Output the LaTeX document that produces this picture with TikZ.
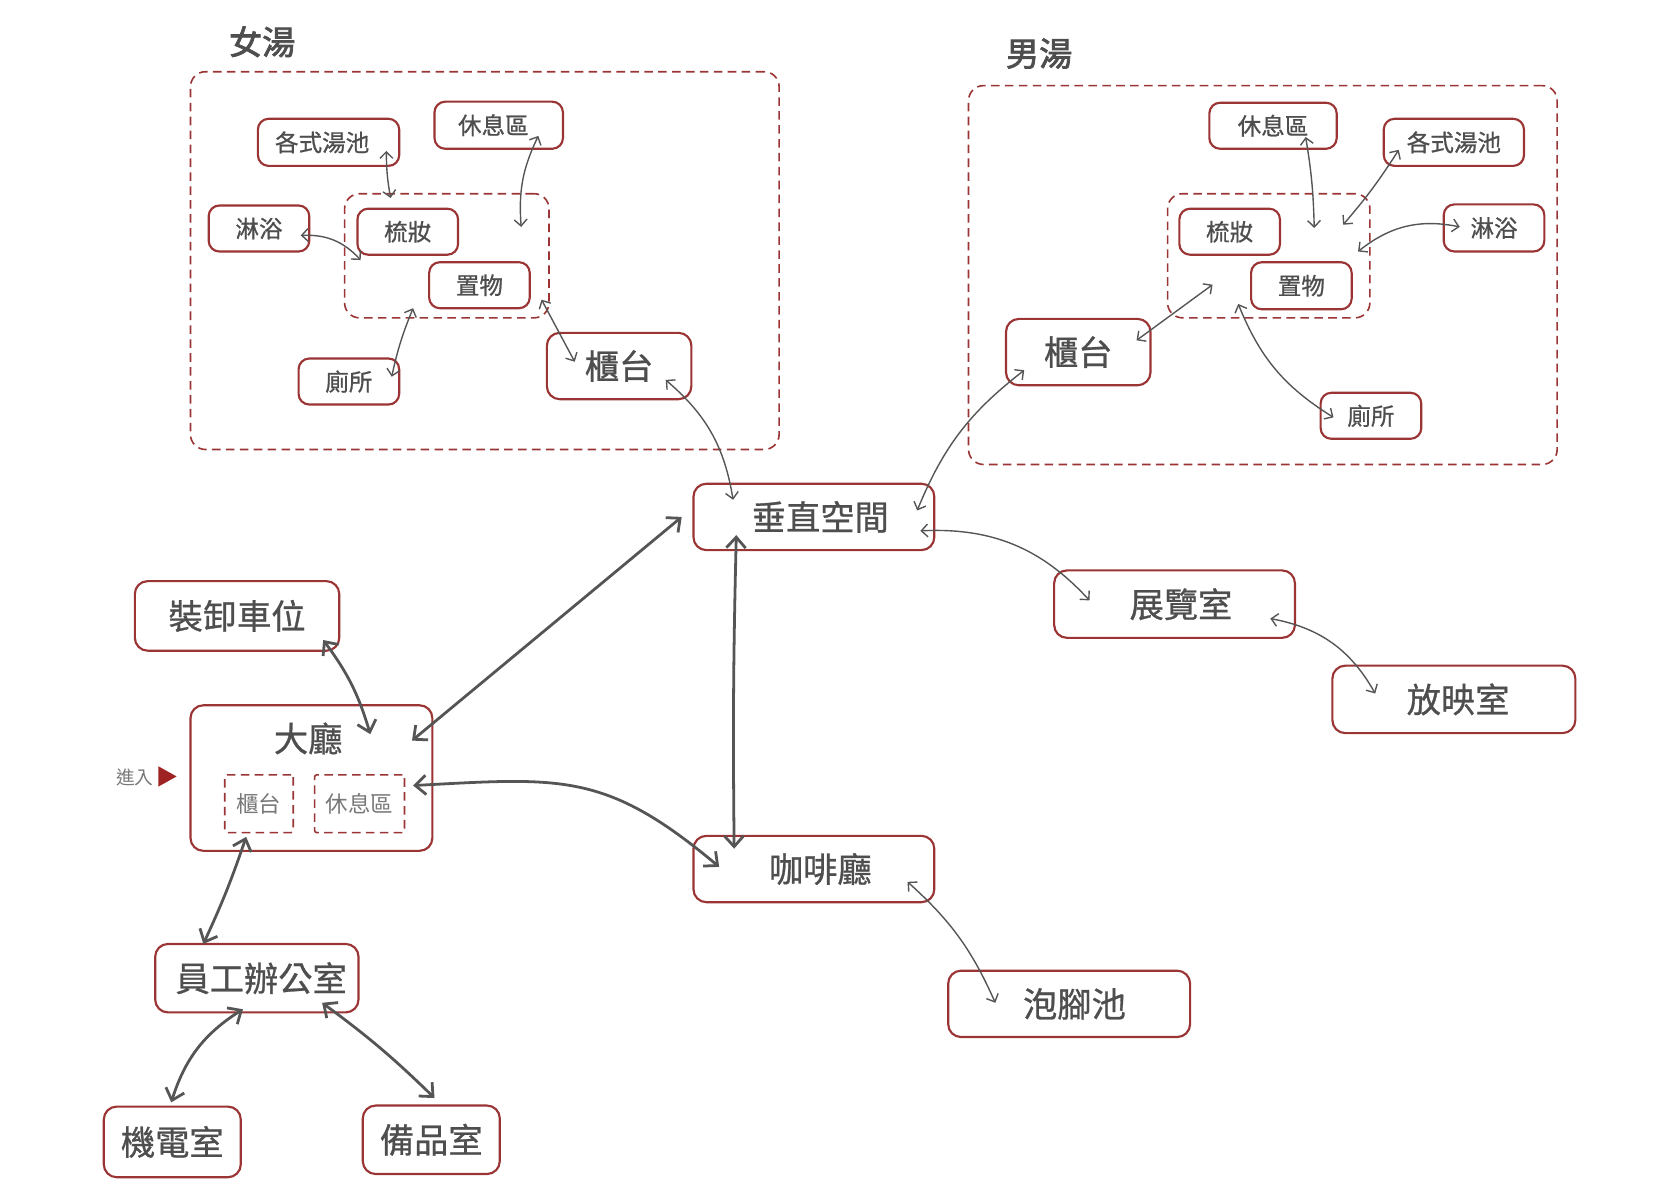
\documentclass[tikz,border=0pt]{standalone}
\usepackage{fontspec}
\newfontfamily\cjk{Noto Sans CJK TC}
\newfontfamily\cjkm[FakeBold=0.8]{Noto Sans CJK TC}
\newfontfamily\cjkb[FakeBold=2.2]{Noto Sans CJK TC}
\usetikzlibrary{calc,arrows.meta}
\definecolor{boxred}{RGB}{155,52,52}
\definecolor{txt}{RGB}{78,78,78}
\definecolor{txtl}{RGB}{120,120,120}
\definecolor{arr}{RGB}{85,85,85}
\definecolor{tri}{RGB}{160,35,35}
\tikzset{
  box/.style={draw=boxred, line width=1pt, rounded corners=6pt, fill=white, text=txt, inner sep=0pt,
    anchor=center, font=\cjkm\fontsize{16}{18}\selectfont},
  sbox/.style={box, rounded corners=5pt, font=\cjkm\fontsize{11}{13}\selectfont},
  zone/.style={draw=boxred, line width=0.75pt, dash pattern=on 4pt off 2.5pt, rounded corners=7pt, inner sep=0pt, anchor=center},
  szone/.style={zone, rounded corners=1pt, text=txtl, font=\cjk\fontsize{10.5}{12}\selectfont},
  ttl/.style={text=txt, font=\cjkb\fontsize{15.5}{17}\selectfont, inner sep=0pt},
  sz/.style 2 args={minimum width=#1pt, minimum height=#2pt},
  lnk/.style={draw=arr, line width=0.65pt, {Straight Barb[length=3pt,width=6pt]}-{Straight Barb[length=3pt,width=6pt]}},
  lnkb/.style={draw=arr, line width=1.3pt, {Straight Barb[length=5pt,width=9pt]}-{Straight Barb[length=5pt,width=9pt]}}
}
\begin{document}
\begin{tikzpicture}[x=0.5pt,y=-0.5pt]
\useasboundingbox (0,0) rectangle (1567,1120);
% ---------------- 女湯 ----------------
\node[ttl] (tW) at (245,39) {女湯};
\node[zone, sz={275}{176.5}] (wOut) at (453,243.5) {};
\node[zone, sz={95.5}{58}] (wIn) at (417.5,239) {};
\node[sbox, sz={66}{22}] (wGe) at (307,133) {\hspace*{-6pt}各式湯池};
\node[sbox, sz={60}{22}] (wXi) at (466,117) {\hspace*{-5pt}休息區};
\node[sbox, sz={47}{21.5}] (wLin) at (242,213.5) {淋浴};
\node[sbox, sz={47}{21.5}] (wShu) at (381,216.5) {梳妝};
\node[sbox, sz={47}{21.5}] (wZhi) at (448,266.5) {置物};
\node[sbox, sz={47}{21.5}] (wCe) at (326,356.5) {廁所};
\node[box, sz={67.5}{31}] (wGui) at (578.5,342) {櫃台};
% ---------------- 男湯 ----------------
\node[ttl] (tM) at (971,50) {男湯};
\node[zone, sz={275}{177}] (mOut) at (1180,257) {};
\node[zone, sz={94.5}{58}] (mIn) at (1185.5,239) {};
\node[sbox, sz={59.5}{21.5}] (mXi) at (1189.5,117.5) {休息區};
\node[sbox, sz={65.5}{22}] (mGe) at (1358.5,133) {各式湯池};
\node[sbox, sz={47}{21.5}] (mShu) at (1149,216.5) {梳妝};
\node[sbox, sz={47}{22}] (mLin) at (1396,213) {淋浴};
\node[sbox, sz={47}{22}] (mZhi) at (1216,267) {置物};
\node[box, sz={67.5}{31}] (mGui) at (1007.5,329) {櫃台};
\node[sbox, sz={47}{21.5}] (mCe) at (1281,388.5) {廁所};
% ---------------- main ----------------
\node[box, sz={112.5}{31}] (vs) at (760.5,483) {\hspace*{6pt}垂直空間};
\node[box, sz={112.5}{31.5}] (ex) at (1097.5,564.5) {\hspace*{6pt}展覽室};
\node[box, sz={113.5}{31.5}] (sc) at (1358.5,653.5) {\hspace*{4pt}放映室};
\node[box, sz={112.5}{31}] (cafe) at (760.5,812) {\hspace*{6pt}咖啡廳};
\node[box, sz={113}{31}] (foot) at (999,938) {\hspace*{5pt}泡腳池};
\node[box, sz={95.5}{32.5}] (load) at (221.5,575.5) {裝卸車位};
\node[box, sz={113}{68}] (lobby) at (291,727) {};
\node[text=txt, font=\cjkm\fontsize{16}{18}\selectfont, inner sep=0pt] (lobbyT) at (288,690) {大廳};
\node[szone, sz={32}{27}] (lGui) at (242,751) {櫃台};
\node[szone, sz={42}{27}] (lXi) at (336,751) {休息區};
\node[text=txtl, font=\cjk\fontsize{8.75}{10}\selectfont, inner sep=0pt] (enter) at (126,726) {進入};
\fill[tri] ($(enter)+(22,-10)$) -- ($(enter)+(22,9)$) -- ($(enter)+(39,-0.5)$) -- cycle;
\node[box, sz={95}{32}] (staff) at (240,914) {\hspace*{4pt}員工辦公室};
\node[box, sz={64}{33}] (mech) at (161,1067) {機電室};
\node[box, sz={64}{32}] (spare) at (403,1065) {備品室};
% ---------------- connectors 女湯 ----------------
\draw[lnk] ($(wGe)+(54,8)$) to[bend right=5] ($(wIn)+(-52.5,-54)$);
\draw[lnk] ($(wXi)+(37,10)$) to[bend right=15] ($(wIn)+(69.5,-27)$);
\draw[lnk] ($(wLin)+(39,6.5)$) to[bend left=25] ($(wIn)+(-80.5,4)$);
\draw[lnk] ($(wCe)+(40,-4.5)$) to[bend left=5] ($(wIn)+(-31.5,49)$);
\draw[lnk] ($(wIn)+(88.5,41)$) -- ($(wGui)+(-41.5,-4)$);
\draw[lnk] ($(wGui)+(43.5,13)$) to[bend left=20] ($(vs)+(-75.5,-16)$);
% ---------------- connectors 男湯 ----------------
\draw[lnk] ($(mXi)+(30.5,10.5)$) to[bend left=4] ($(mIn)+(42.5,-26)$);
\draw[lnk] ($(mGe)+(-51.5,7)$) to[bend left=4] ($(mIn)+(69.5,-29)$);
\draw[lnk] ($(mLin)+(-32,-1)$) to[bend right=25] ($(mIn)+(83.5,-4)$);
\draw[lnk] ($(mGui)+(54.5,-11)$) -- ($(mIn)+(-52.5,27)$);
\draw[lnk] ($(mCe)+(-35,1.5)$) to[bend left=18] ($(mIn)+(-28.5,45)$);
\draw[lnk] ($(mGui)+(-50.5,17)$) to[bend right=15] ($(vs)+(96.5,-6)$);
% ---------------- connectors main ----------------
\draw[lnk] ($(vs)+(99.5,13)$) to[bend left=25] ($(ex)+(-79.5,-3.5)$);
\draw[lnk] ($(ex)+(89.5,13.5)$) to[bend left=25] ($(sc)+(-73.5,-5.5)$);
\draw[lnk] ($(cafe)+(87.5,12)$) to[bend left=12] ($(foot)+(-69,-1)$);
\draw[lnkb] ($(vs)+(-72.5,17)$) to[bend right=1] ($(cafe)+(-74.5,-19)$);
\draw[lnkb] ($(vs)+(-123.5,0)$) -- ($(lobby)+(94,-35)$);
\draw[lnkb] ($(lobby)+(95,7)$) to[out=3,in=140,looseness=1.2] ($(cafe)+(-88.5,-2)$);
\draw[lnkb] ($(load)+(80.5,22.5)$) to[bend left=10] ($(lobby)+(55,-41)$);
\draw[lnkb] ($(lobby)+(-61,55)$) to[bend left=3] ($(staff)+(-50,-32)$);
\draw[lnkb] ($(staff)+(-13,29)$) to[bend right=20] ($(mech)+(-1,-37)$);
\draw[lnkb] ($(staff)+(61,23)$) to[bend left=4] ($(spare)+(3,-39)$);
\end{tikzpicture}
\end{document}
